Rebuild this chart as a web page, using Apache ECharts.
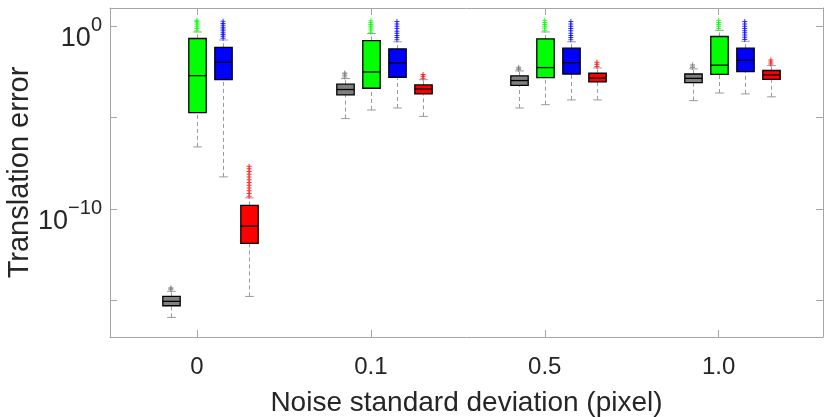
<!DOCTYPE html>
<html>
<head>
<meta charset="utf-8">
<script src="https://cdn.jsdelivr.net/npm/echarts@6.0.0/dist/echarts.min.js"></script>
<style>
html, body { margin: 0; padding: 0; background: #fff; }
#chart { width: 830px; height: 417px; }
</style>
</head>
<body>
<div id="chart"></div>
<script>
var noiseLevels = ['0', '0.1', '0.5', '1.0'];

// values are log10(translation error)
// each row: [lower whisker, Q1, median, Q3, upper whisker], one row per noise level
var grayBoxes = [
    [-15.93, -15.29, -15.05, -14.78, -14.50],
    [-5.05, -3.75, -3.46, -3.17, -2.86],
    [-4.47, -3.23, -2.97, -2.71, -2.44],
    [-4.07, -3.08, -2.85, -2.61, -2.33]
];
var greenBoxes = [
    [-6.60, -4.72, -2.70, -0.67, -0.31],
    [-4.58, -3.39, -2.50, -0.78, -0.40],
    [-4.29, -2.81, -2.26, -0.69, -0.31],
    [-3.65, -2.63, -2.13, -0.56, -0.22]
];
var blueBoxes = [
    [-8.24, -2.92, -1.97, -1.15, -0.75],
    [-4.47, -2.79, -2.00, -1.24, -0.85],
    [-4.03, -2.61, -1.99, -1.20, -0.85],
    [-3.70, -2.48, -1.86, -1.20, -0.82]
];
var redBoxes = [
    [-14.78, -11.88, -10.93, -9.80, -9.39],
    [-4.93, -3.70, -3.43, -3.21, -2.92],
    [-4.03, -3.04, -2.83, -2.57, -2.28],
    [-3.86, -2.90, -2.66, -2.42, -2.15]
];

// outliers above the upper whisker
var grayOutliers = [
    [-14.42, -14.36, -14.31],
    [-2.78, -2.68, -2.60, -2.55],
    [-2.36, -2.30, -2.24],
    [-2.25, -2.17, -2.10]
];
var greenOutliers = [
    [-0.22, -0.12, -0.02, 0.08, 0.18, 0.26, 0.33],
    [-0.32, -0.20, -0.10, 0.00, 0.10, 0.20, 0.30],
    [-0.22, -0.10, 0.00, 0.10, 0.20, 0.33],
    [-0.12, 0.00, 0.10, 0.20, 0.33]
];
var blueOutliers = [
    [-0.65, -0.55, -0.45, -0.35, -0.25, -0.15, -0.05, 0.05, 0.15, 0.27],
    [-0.74, -0.62, -0.50, -0.38, -0.27, -0.12, 0.00, 0.12, 0.26],
    [-0.74, -0.62, -0.50, -0.38, -0.25, -0.12, 0.00, 0.12, 0.26],
    [-0.72, -0.60, -0.48, -0.36, -0.24, -0.12, 0.00, 0.12, 0.26]
];
var redOutliers = [
    [-9.30, -9.15, -9.00, -8.85, -8.70, -8.55, -8.40, -8.25, -8.10, -7.95, -7.80, -7.66],
    [-2.84, -2.74, -2.64],
    [-2.20, -2.08, -1.97],
    [-2.06, -1.95, -1.84]
];

var yTicks = [-15, -10, -5, 0];
var yLabels = [-10, 0];

var textColor = '#262626';
var frameColor = '#a6a6a6';
var whiskerColor = '#9a9a9a';
var font = '"Liberation Sans", Arial, Helvetica, sans-serif';

// box centres relative to the noise level tick (axis units)
var methods = [
    {name: 'gray', color: '#808080', boxes: grayBoxes, outliers: grayOutliers, offset: -0.15},
    {name: 'green', color: '#00ff00', boxes: greenBoxes, outliers: greenOutliers, offset: 0},
    {name: 'blue', color: '#0000ff', boxes: blueBoxes, outliers: blueOutliers, offset: 0.15},
    {name: 'red', color: '#ff0000', boxes: redBoxes, outliers: redOutliers, offset: 0.3}
];

var plusSymbol = 'path://M2,0H3V2H5V3H3V5H2V3H0V2H2Z';

function renderBox(params, api) {
    var x = api.value(0);
    var lo = api.coord([x, api.value(1)]);
    var q1 = api.coord([x, api.value(2)]);
    var med = api.coord([x, api.value(3)]);
    var q3 = api.coord([x, api.value(4)]);
    var hi = api.coord([x, api.value(5)]);
    var half = api.size([0.1, 0])[0] / 2;
    var cap = half / 2;
    var cx = Math.round(lo[0]) + 0.5;
    var dash = {stroke: whiskerColor, lineWidth: 1, lineDash: [4, 3]};
    var solid = {stroke: whiskerColor, lineWidth: 1};
    return {
        type: 'group',
        children: [
            {type: 'line', shape: {x1: cx, y1: lo[1], x2: cx, y2: q1[1]}, style: dash},
            {type: 'line', shape: {x1: cx, y1: q3[1], x2: cx, y2: hi[1]}, style: dash},
            {type: 'line', shape: {x1: cx - cap, y1: lo[1], x2: cx + cap, y2: lo[1]}, style: solid},
            {type: 'line', shape: {x1: cx - cap, y1: hi[1], x2: cx + cap, y2: hi[1]}, style: solid},
            {type: 'rect', shape: {x: cx - half, y: q3[1], width: half * 2, height: q1[1] - q3[1]},
                style: {fill: api.visual('color'), stroke: '#000', lineWidth: 1.3}},
            {type: 'line', shape: {x1: cx - half, y1: med[1], x2: cx + half, y2: med[1]},
                style: {stroke: '#000', lineWidth: 1.3}}
        ]
    };
}

var series = [];
methods.forEach(function (m) {
    var boxData = m.boxes.map(function (b, i) {
        return [i + 1 + m.offset].concat(b);
    });
    var outlierData = [];
    m.outliers.forEach(function (list, i) {
        list.forEach(function (v) {
            outlierData.push([i + 1 + m.offset, v]);
        });
    });
    series.push({
        name: m.name,
        type: 'custom',
        renderItem: renderBox,
        itemStyle: {color: m.color},
        encode: {x: 0, y: [1, 2, 3, 4, 5]},
        data: boxData,
        silent: true
    });
    series.push({
        name: m.name + ' outliers',
        type: 'scatter',
        symbol: plusSymbol,
        symbolSize: 5,
        itemStyle: {color: m.color},
        data: outlierData,
        silent: true
    });
});

// 10 with a superscript exponent, minus written as U+2212
function supLabel(v) {
    return '{b|10}{s|' + String(v).replace('-', '\u2212') + '}';
}

var chart = echarts.init(document.getElementById('chart'));
chart.setOption({
    animation: false,
    backgroundColor: '#fff',
    grid: {left: 110, right: 7, top: 8, bottom: 80, containLabel: false, outerBoundsMode: 'none'},
    xAxis: [{
        type: 'value',
        min: 0.5,
        max: 4.6,
        position: 'bottom',
        name: 'Noise standard deviation (pixel)',
        nameLocation: 'middle',
        nameGap: 52,
        nameMoveOverlap: false,
        nameTextStyle: {fontSize: 28, color: textColor, fontFamily: font},
        axisLine: {show: true, onZero: false, lineStyle: {color: frameColor, width: 1}},
        axisTick: {show: true, inside: true, length: 7, customValues: [1, 2, 3, 4],
            lineStyle: {color: frameColor}},
        axisLabel: {
            customValues: [1, 2, 3, 4],
            margin: 18,
            fontSize: 24,
            color: textColor,
            fontFamily: font,
            formatter: function (v) { return noiseLevels[Math.round(v) - 1]; }
        },
        splitLine: {show: false}
    }, {
        type: 'value',
        min: 0.5,
        max: 4.6,
        position: 'top',
        axisLine: {show: true, onZero: false, lineStyle: {color: frameColor, width: 1}},
        axisTick: {show: true, inside: true, length: 7, customValues: [1, 2, 3, 4],
            lineStyle: {color: frameColor}},
        axisLabel: {show: false},
        splitLine: {show: false}
    }],
    yAxis: [{
        type: 'value',
        min: -17,
        max: 1,
        position: 'left',
        name: 'Translation error',
        nameLocation: 'middle',
        nameRotate: 90,
        nameGap: 76,
        nameMoveOverlap: false,
        nameTextStyle: {fontSize: 29, color: textColor, fontFamily: font},
        axisLine: {show: true, onZero: false, lineStyle: {color: frameColor, width: 1}},
        axisTick: {show: true, inside: true, length: 7, customValues: yTicks,
            lineStyle: {color: frameColor}},
        axisLabel: {
            customValues: yLabels,
            margin: 8,
            padding: [15, 0, 0, 0],
            color: textColor,
            fontFamily: font,
            formatter: supLabel,
            rich: {
                b: {fontSize: 27, lineHeight: 36, verticalAlign: 'bottom', color: textColor, fontFamily: font},
                s: {fontSize: 20, lineHeight: 22, verticalAlign: 'top', color: textColor, fontFamily: font}
            }
        },
        splitLine: {show: false}
    }, {
        type: 'value',
        min: -17,
        max: 1,
        position: 'right',
        axisLine: {show: true, onZero: false, lineStyle: {color: frameColor, width: 1}},
        axisTick: {show: true, inside: true, length: 7, customValues: yTicks,
            lineStyle: {color: frameColor}},
        axisLabel: {show: false},
        splitLine: {show: false}
    }],
    series: series
});
</script>
</body>
</html>
